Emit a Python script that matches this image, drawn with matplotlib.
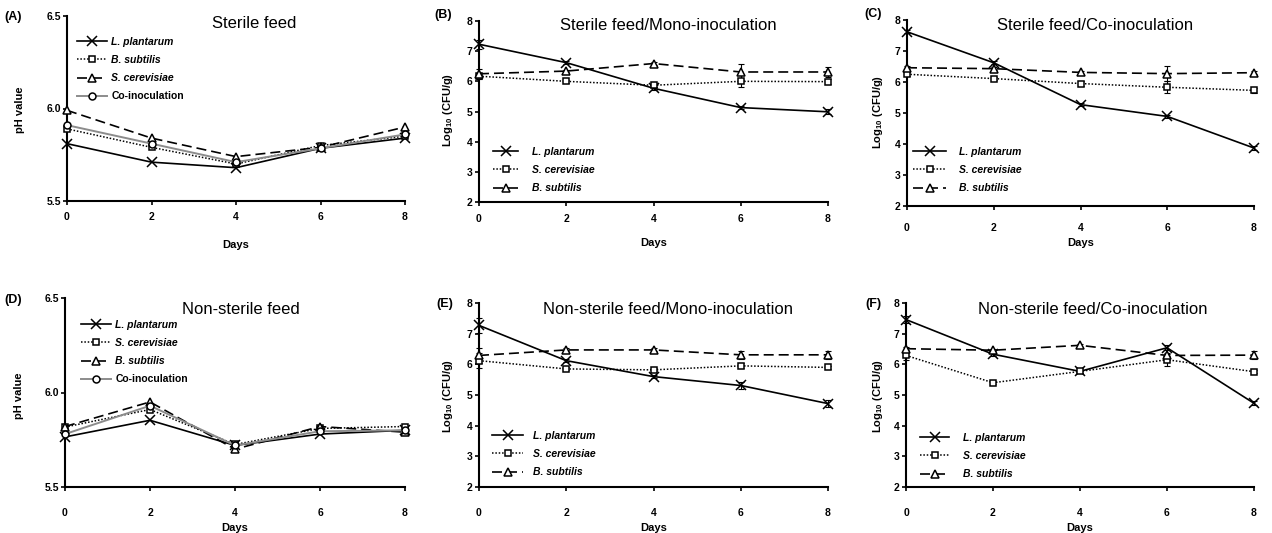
import matplotlib
matplotlib.use("Agg")
import matplotlib.pyplot as plt

plt.rcParams['font.family'] = ['Liberation Sans', 'DejaVu Sans']
plt.rcParams['mathtext.fontset'] = 'custom'
plt.rcParams['mathtext.rm'] = 'Liberation Sans:bold'
plt.rcParams['mathtext.it'] = 'Liberation Sans:bold:italic'
plt.rcParams['mathtext.bf'] = 'Liberation Sans:bold'
plt.rcParams['mathtext.default'] = 'rm'

# ---------------- data ----------------
days = [0, 2, 4, 6, 8]

# (A) Sterile feed, pH
A_lp = [5.81, 5.71, 5.68, 5.785, 5.84]
A_bs = [5.89, 5.79, 5.70, 5.80, 5.85]
A_sc = [5.99, 5.84, 5.74, 5.79, 5.90]
A_co = [5.91, 5.81, 5.71, 5.785, 5.86]

# (B) Sterile feed / Mono-inoculation, log10 CFU/g
B_lp = [7.23, 6.62, 5.77, 5.13, 4.99]
B_lp_err = [0.15, 0.04, 0.05, 0.05, 0.08]
B_sc = [6.17, 6.00, 5.87, 6.00, 5.99]
B_sc_err = [0.10, 0.04, 0.07, 0.20, 0.08]
B_bs = [6.25, 6.34, 6.59, 6.31, 6.31]
B_bs_err = [0.15, 0.04, 0.05, 0.25, 0.15]

# (C) Sterile feed / Co-inoculation
C_lp = [7.62, 6.62, 5.27, 4.89, 3.87]
C_lp_err = [0.05, 0.05, 0.04, 0.05, 0.05]
C_sc = [6.25, 6.11, 5.95, 5.83, 5.73]
C_sc_err = [0.06, 0.04, 0.09, 0.20, 0.07]
C_bs = [6.46, 6.43, 6.31, 6.27, 6.30]
C_bs_err = [0.05, 0.04, 0.06, 0.24, 0.05]

# (D) Non-sterile feed, pH
D_lp = [5.765, 5.853, 5.72, 5.78, 5.80]
D_sc = [5.817, 5.91, 5.725, 5.81, 5.82]
D_bs = [5.82, 5.95, 5.70, 5.82, 5.79]
D_co = [5.78, 5.93, 5.72, 5.795, 5.80]

# (E) Non-sterile feed / Mono-inoculation
E_lp = [7.27, 6.12, 5.60, 5.31, 4.72]
E_lp_err = [0.25, 0.05, 0.05, 0.12, 0.12]
E_sc = [6.12, 5.85, 5.82, 5.95, 5.90]
E_sc_err = [0.25, 0.05, 0.05, 0.08, 0.05]
E_bs = [6.29, 6.47, 6.47, 6.31, 6.31]
E_bs_err = [0.25, 0.05, 0.05, 0.12, 0.12]

# (F) Non-sterile feed / Co-inoculation
F_lp = [7.46, 6.33, 5.77, 6.54, 4.73]
F_lp_err = [0.12, 0.05, 0.05, 0.08, 0.07]
F_sc = [6.29, 5.40, 5.77, 6.15, 5.76]
F_sc_err = [0.15, 0.05, 0.05, 0.22, 0.05]
F_bs = [6.51, 6.46, 6.62, 6.29, 6.30]
F_bs_err = [0.05, 0.05, 0.05, 0.05, 0.12]

ph_ticks = [5.5, 6.0, 6.5]
cfu_ticks = [2, 3, 4, 5, 6, 7, 8]
day_ticks = [0, 2, 4, 6, 8]

# ---------------- styles ----------------
W, H = 1272, 533
STY = {
    'lp': dict(color='black', ls='-', marker='x', ms=6.5, mew=1.1, mfc='none', lw=1.2),
    'sq': dict(color='black', ls=(0, (1, 1.2)), marker='s', ms=5, mew=1.1, mfc='white', lw=1.1),
    'tri': dict(color='black', ls=(0, (6, 3)), marker='^', ms=5.5, mew=1.1, mfc='white', lw=1.2),
    'co': dict(color='#8c8c8c', ls='-', marker='o', ms=5, mew=1.1, mfc='white', mec='black', lw=1.4),
}

fig = plt.figure(figsize=(W / 100, H / 100), dpi=100)


def px_axes(l, t, r, b):
    return fig.add_axes([l / W, 1 - b / H, (r - l) / W, (b - t) / H])


def style_ax(ax, ylim, yticks, yfmt, xpad):
    ax.set_xlim(0, 8)
    ax.set_ylim(*ylim)
    ax.set_xticks(day_ticks)
    ax.set_yticks(yticks)
    ax.set_yticklabels([yfmt.format(v) for v in yticks])
    for s in ('top', 'right'):
        ax.spines[s].set_visible(False)
    for s in ('left', 'bottom'):
        ax.spines[s].set_linewidth(1.5)
    ax.tick_params(axis='both', direction='out', length=3, width=1.2,
                   labelsize=7.5)
    ax.tick_params(axis='y', pad=1.5)
    ax.tick_params(axis='x', pad=xpad)
    for lab in ax.get_xticklabels() + ax.get_yticklabels():
        lab.set_fontweight('bold')


def plot_series(ax, y, key, err=None):
    st = dict(STY[key])
    if err is not None:
        ax.errorbar(days, y, yerr=err, fmt='none', ecolor='black',
                    elinewidth=0.8, capsize=2.2, capthick=0.8, clip_on=False,
                    zorder=2)
    ln, = ax.plot(days, y, clip_on=False, zorder=3, **st)
    return ln


def add_legend(ax, handles, labels, left, top, hl, htp):
    leg = ax.legend(handles, labels, loc='upper left',
                    bbox_to_anchor=(left / W, 1 - top / H),
                    bbox_transform=fig.transFigure, frameon=False,
                    borderpad=0, borderaxespad=0, handlelength=hl,
                    handletextpad=htp, labelspacing=0.78,
                    prop=dict(size=7.5, weight='bold', style='italic'))
    for t in leg.get_texts():
        if t.get_text() == 'Co-inoculation':
            t.set_fontstyle('normal')
    return leg


def ftext(x, y, s, **kw):
    fig.text(x / W, 1 - y / H, s, **kw)


# ---------- (A) ----------
axA = px_axes(67, 16, 405, 201)
style_ax(axA, (5.5, 6.5), ph_ticks, '{:.1f}', 5)
h1 = plot_series(axA, A_lp, 'lp')
h2 = plot_series(axA, A_bs, 'sq')
h3 = plot_series(axA, A_sc, 'tri')
h4 = plot_series(axA, A_co, 'co')
add_legend(axA, [h1, h2, h3, h4],
           ['L. plantarum', 'B. subtilis', 'S. cerevisiae', 'Co-inoculation'],
           77, 37, 2.9, 0.4)

# ---------- (B) ----------
axB = px_axes(479, 21, 828, 202)
style_ax(axB, (2, 8), cfu_ticks, '{:d}', 5.5)
h1 = plot_series(axB, B_lp, 'lp', B_lp_err)
h2 = plot_series(axB, B_sc, 'sq', B_sc_err)
h3 = plot_series(axB, B_bs, 'tri', B_bs_err)
add_legend(axB, [h1, h2, h3], ['L. plantarum', 'S. cerevisiae', 'B. subtilis'],
           493, 147, 2.4, 1.35)

# ---------- (C) ----------
axC = px_axes(907, 20, 1254, 206)
style_ax(axC, (2, 8), cfu_ticks, '{:d}', 9.5)
h1 = plot_series(axC, C_lp, 'lp', C_lp_err)
h2 = plot_series(axC, C_sc, 'sq', C_sc_err)
h3 = plot_series(axC, C_bs, 'tri', C_bs_err)
add_legend(axC, [h1, h2, h3], ['L. plantarum', 'S. cerevisiae', 'B. subtilis'],
           913, 147, 3.2, 1.25)

# ---------- (D) ----------
axD = px_axes(65, 298, 405, 487)
style_ax(axD, (5.5, 6.5), ph_ticks, '{:.1f}', 12)
h1 = plot_series(axD, D_lp, 'lp')
h2 = plot_series(axD, D_sc, 'sq')
h3 = plot_series(axD, D_bs, 'tri')
h4 = plot_series(axD, D_co, 'co')
add_legend(axD, [h1, h2, h3, h4],
           ['L. plantarum', 'S. cerevisiae', 'B. subtilis', 'Co-inoculation'],
           81, 320, 2.9, 0.4)

# ---------- (E) ----------
axE = px_axes(479, 303, 828, 487)
style_ax(axE, (2, 8), cfu_ticks, '{:d}', 12)
h1 = plot_series(axE, E_lp, 'lp', E_lp_err)
h2 = plot_series(axE, E_sc, 'sq', E_sc_err)
h3 = plot_series(axE, E_bs, 'tri', E_bs_err)
add_legend(axE, [h1, h2, h3], ['L. plantarum', 'S. cerevisiae', 'B. subtilis'],
           492, 431, 3.0, 0.9)

# ---------- (F) ----------
axF = px_axes(906, 303, 1254, 487)
style_ax(axF, (2, 8), cfu_ticks, '{:d}', 12)
h1 = plot_series(axF, F_lp, 'lp', F_lp_err)
h2 = plot_series(axF, F_sc, 'sq', F_sc_err)
h3 = plot_series(axF, F_bs, 'tri', F_bs_err)
add_legend(axF, [h1, h2, h3], ['L. plantarum', 'S. cerevisiae', 'B. subtilis'],
           920, 433, 2.8, 1.35)

# ---------- titles, letters, axis labels ----------
tkw = dict(ha='center', va='center', fontsize=12)
ftext(254, 24, 'Sterile feed', **tkw)
ftext(668, 25, 'Sterile feed/Mono-inoculation', **tkw)
ftext(1095, 25, 'Sterile feed/Co-inoculation', **tkw)
ftext(241, 309, 'Non-sterile feed', **tkw)
ftext(668, 309, 'Non-sterile feed/Mono-inoculation', **tkw)
ftext(1093, 309, 'Non-sterile feed/Co-inoculation', **tkw)

lkw = dict(ha='left', va='center', fontsize=9, fontweight='bold')
ftext(4, 17, '(A)', **lkw)
ftext(434, 15, '(B)', **lkw)
ftext(864, 14, '(C)', **lkw)
ftext(4, 300, '(D)', **lkw)
ftext(436, 304, '(E)', **lkw)
ftext(865, 304, '(F)', **lkw)

ykw = dict(ha='center', va='center', rotation=90, fontsize=8, fontweight='bold')
ftext(20, 110, 'pH value', **ykw)
ftext(448, 110, 'Log$_{10}$ (CFU/g)', **ykw)
ftext(878, 112, 'Log$_{10}$ (CFU/g)', **ykw)
ftext(19, 396, 'pH value', **ykw)
ftext(448, 396, 'Log$_{10}$ (CFU/g)', **ykw)
ftext(878, 396, 'Log$_{10}$ (CFU/g)', **ykw)

dkw = dict(ha='center', va='center', fontsize=8, fontweight='bold')
ftext(236, 245, 'Days', **dkw)
ftext(654, 243, 'Days', **dkw)
ftext(1081, 243, 'Days', **dkw)
ftext(235, 528, 'Days', **dkw)
ftext(654, 528, 'Days', **dkw)
ftext(1080, 528, 'Days', **dkw)

fig.savefig('out.png', dpi=100)
